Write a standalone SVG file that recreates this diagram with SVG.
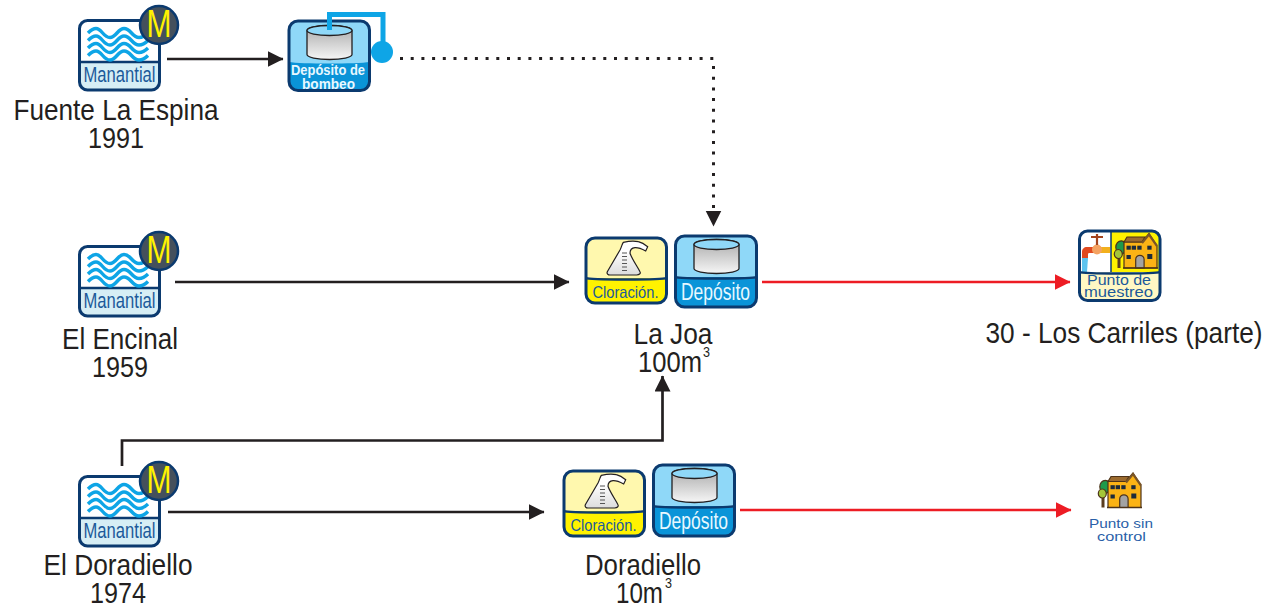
<svg xmlns="http://www.w3.org/2000/svg" width="1265" height="609" viewBox="0 0 1265 609">
<style>
.lbl{font-family:"Liberation Sans",Arial,sans-serif;font-size:30px;fill:#231f20;text-anchor:middle}
.sup{font-family:"Liberation Sans",Arial,sans-serif;font-size:14.5px;fill:#231f20}
.bx{stroke:#0b3a6f;stroke-width:3;fill:none}
.dv{stroke:#0b3a6f;stroke-width:2.5;fill:none}
.wave{stroke:#0ea5e6;stroke-width:3.400;fill:none}
.in{font-family:"Liberation Sans",Arial,sans-serif;text-anchor:middle}
.k{stroke:#231f20;stroke-width:2.7;fill:none}
.r{stroke:#ed1c24;stroke-width:2.7;fill:none}
.d{stroke:#231f20;stroke-width:3;fill:none;stroke-dasharray:3 7.7}
.win{fill:#1d2b3a}
.hs{stroke:#4d3319;stroke-width:1.200}
</style>
<defs>
<linearGradient id="g" x1="0" y1="0" x2="0" y2="1"><stop offset="0" stop-color="#a9a9a9"/><stop offset="1" stop-color="#f6f6f6"/></linearGradient>
<linearGradient id="fl" x1="0" y1="0" x2="0" y2="1"><stop offset="0.300" stop-color="#ffffff"/><stop offset="1" stop-color="#dcdcdc"/></linearGradient>
<marker id="ak" markerUnits="userSpaceOnUse" markerWidth="17" markerHeight="17" refX="15.500" refY="8" orient="auto"><path d="M0 0L16 8L0 16Z" fill="#231f20"/></marker>
<marker id="ar" markerUnits="userSpaceOnUse" markerWidth="17" markerHeight="17" refX="15.500" refY="8" orient="auto"><path d="M0 0L16 8L0 16Z" fill="#ed1c24"/></marker>
<path id="wv" d="M88 33C91 30 93 28.500 96 28.500C102 28.500 103 37.500 110 37.500C116 37.500 118 28.500 124 28.500C131 28.500 132 37.500 139 37.500C142 37.500 145 36 148 33" class="wave"/>
<g id="man">
<rect x="79.500" y="20.500" width="80" height="69.500" rx="8" fill="#fff"/>
<path d="M79.500 62H159.500V82a8 8 0 0 1-8 8H87.500a8 8 0 0 1-8-8Z" fill="#d6eef5"/>
<rect x="79.500" y="20.500" width="80" height="69.500" rx="8" class="bx"/>
<path d="M79.500 62H159.500" class="dv"/>
<use href="#wv"/>
<use href="#wv" y="7.500"/>
<use href="#wv" y="15"/>
<use href="#wv" y="22.500"/>
<circle cx="159" cy="25" r="19" fill="#44505c" stroke="#0b3a6f" stroke-width="2.500"/>
<text x="159" y="37" class="in" font-size="38" fill="#fff200" textLength="25" lengthAdjust="spacingAndGlyphs">M</text>
<text x="119.500" y="82" class="in" font-size="22" fill="#1c5a9a" textLength="72" lengthAdjust="spacingAndGlyphs">Manantial</text>
</g>
<g id="tank">
<path d="M0 5A22.500 5 0 0 1 45 5V29A22.500 5 0 0 1 0 29Z" fill="url(#g)" stroke="#231f20" stroke-width="1.300"/>
<ellipse cx="22.500" cy="5" rx="22.500" ry="5" fill="#8fd8f8" stroke="#231f20" stroke-width="1.300"/>
</g>
<g id="dep">
<rect x="0" y="0" width="81" height="71" rx="9" fill="#8fd8f8"/>
<path d="M0 41H81V62a9 9 0 0 1-9 9H9a9 9 0 0 1-9-9Z" fill="#0a94d8"/>
<rect x="0" y="0" width="81" height="71" rx="9" class="bx"/>
<path d="M0 41C3 43 78 43 81 41" class="dv"/>
<use href="#tank" x="18.500" y="3.500"/>
<text x="40" y="63.500" class="in" font-size="23" fill="#e8f8ff" textLength="69" lengthAdjust="spacingAndGlyphs">Depósito</text>
</g>
<g id="clo">
<rect x="0" y="0" width="80.500" height="65" rx="9" fill="#fff8ae"/>
<path d="M0 40H80.500V56a9 9 0 0 1-9 9H9a9 9 0 0 1-9-9Z" fill="#fff200"/>
<rect x="0" y="0" width="80.500" height="65" rx="9" class="bx"/>
<path d="M0 40C3 42 77 42 80.500 40" class="dv"/>
<path d="M21.300 33.700L34 12C36 8 36 6 37.300 4.300C43 3 48 2.500 52.300 3.700C56 4.500 59 6.500 61.700 8.700L59.700 13C56 11 52 9.500 49 9.700C46 10 44 12 44 15.300C46 21 51 28 54 33.700C55 35.500 53 37 50.700 37H24C22 37 20.500 35.500 21.300 33.700Z" fill="url(#fl)" stroke="#231f20" stroke-width="1.200"/>
<path d="M36 15H41M36 18.500H41M36 22H41M36 25.500H41M36 29H41M36 32.500H41" stroke="#555" stroke-width="1"/>
<text x="39.500" y="60" class="in" font-size="16.500" fill="#1c5a9a" textLength="66" lengthAdjust="spacingAndGlyphs">Cloración.</text>
</g>
<g id="house">
<rect x="3.500" y="24" width="3" height="11" fill="#5a3d1e"/>
<ellipse cx="7.300" cy="14.300" rx="5.500" ry="6.500" fill="#1e9a4b" class="hs"/>
<ellipse cx="4.300" cy="21" rx="4" ry="4.500" fill="#a4c639" class="hs"/>
<path d="M10 9H28L35 0.500L43 13V35H10Z" fill="#fbb315" class="hs"/>
<path d="M10 9L13 4H31L28 9Z" fill="#9c6b2f" class="hs"/>
<path d="M28 10L35 1.500L43 13" fill="none" stroke="#7a5527" stroke-width="2.200"/>
<rect class="win" x="12.500" y="12.700" width="4.300" height="4"/><rect class="win" x="17.700" y="12.700" width="4.300" height="4"/><rect class="win" x="23.300" y="12.700" width="4.300" height="4"/><rect class="win" x="33.300" y="12.700" width="4.300" height="4"/><rect class="win" x="12.500" y="22" width="4.300" height="4"/><rect class="win" x="33.300" y="21" width="5" height="5"/>
<path d="M21.700 35V26.500a4.200 4.200 0 0 1 8.400 0V35Z" fill="#a3a3a3" class="hs"/>
<path d="M9 35H44" stroke="#4d3319" stroke-width="1.500"/>
</g>
</defs>

<g id="connectors">
<path d="M167 59H283" class="k" marker-end="url(#ak)"/>
<path d="M175 282H569" class="k" marker-end="url(#ak)"/>
<path d="M122 466V440.500H662.500V376" class="k" marker-end="url(#ak)"/>
<path d="M168 512H544" class="k" marker-end="url(#ak)"/>
<path d="M762 282H1070" class="r" marker-end="url(#ar)"/>
<path d="M740 510H1071" class="r" marker-end="url(#ar)"/>
<path d="M400 58.500H713.500V208" class="d"/>
<path d="M713.500 209V226" stroke="none" fill="none" marker-end="url(#ak)"/>
</g>

<g id="fuente-la-espina"><use href="#man"/>
<text class="lbl" x="116" y="120" textLength="205" lengthAdjust="spacingAndGlyphs">Fuente La Espina</text>
<text class="lbl" x="116" y="148" textLength="56" lengthAdjust="spacingAndGlyphs">1991</text></g>

<g id="el-encinal"><use href="#man" y="226"/>
<text class="lbl" x="120" y="349" textLength="116" lengthAdjust="spacingAndGlyphs">El Encinal</text>
<text class="lbl" x="120" y="377" textLength="56" lengthAdjust="spacingAndGlyphs">1959</text></g>

<g id="el-doradiello"><use href="#man" y="456"/>
<text class="lbl" x="118" y="575" textLength="149" lengthAdjust="spacingAndGlyphs">El Doradiello</text>
<text class="lbl" x="118" y="603" textLength="56" lengthAdjust="spacingAndGlyphs">1974</text></g>

<g id="deposito-bombeo">
<rect x="289" y="21" width="80.500" height="69.500" rx="9" fill="#8fd8f8"/>
<path d="M289 62C300 64 358 64 369.500 62V81.500a9 9 0 0 1-9 9H298a9 9 0 0 1-9-9Z" fill="#0a94d8"/>
<rect x="289" y="21" width="80.500" height="69.500" rx="9" class="bx"/>
<use href="#tank" x="307" y="25.500"/>
<path d="M329.500 30V14.500H383V45" fill="none" stroke="#0ea5e6" stroke-width="5"/>
<circle cx="382" cy="52" r="11" fill="#0ea5e6"/>
<text x="328" y="75" class="in" font-size="15" font-weight="bold" fill="#e8f8ff" textLength="74" lengthAdjust="spacingAndGlyphs">Depósito de</text>
<text x="328.500" y="89" class="in" font-size="15" font-weight="bold" fill="#e8f8ff" textLength="53" lengthAdjust="spacingAndGlyphs">bombeo</text>
</g>

<g id="la-joa">
<use href="#clo" x="586" y="238"/>
<use href="#dep" x="675.500" y="236"/>
<text class="lbl" x="673" y="344" textLength="79" lengthAdjust="spacingAndGlyphs">La Joa</text>
<text class="lbl" x="670" y="372" textLength="64" lengthAdjust="spacingAndGlyphs">100m</text>
<text class="sup" x="703" y="357" textLength="7" lengthAdjust="spacingAndGlyphs">3</text>
</g>

<g id="doradiello">
<use href="#clo" x="564" y="471"/>
<use href="#dep" x="653.500" y="465"/>
<text class="lbl" x="643" y="575" textLength="116" lengthAdjust="spacingAndGlyphs">Doradiello</text>
<text class="lbl" x="639.500" y="603" textLength="47" lengthAdjust="spacingAndGlyphs">10m</text>
<text class="sup" x="665" y="588" textLength="7" lengthAdjust="spacingAndGlyphs">3</text>
</g>

<g id="los-carriles">
<rect x="1079.500" y="231" width="80.500" height="69.500" rx="8" fill="#fff8c4"/>
<rect x="1080.500" y="232" width="31" height="40" fill="#fff"/>
<rect x="1111" y="232" width="48" height="40" fill="#fff200"/>
<path d="M1111 232V272" stroke="#0b3a6f" stroke-width="1.500"/>
<path d="M1082 258V252C1082 249 1084 247 1087 247H1096V253H1089C1088 253 1088 254 1088 255V258Z" fill="#e0491f"/>
<path d="M1082 258H1088L1087 272H1082Z" fill="#5cc3ef"/>
<path d="M1096 247H1110V253H1096Z" fill="#f2b01d"/>
<circle cx="1097" cy="249.500" r="5" fill="#f4a261"/>
<path d="M1097 234V245M1091 237H1103" stroke="#a3431c" stroke-width="2.200"/>
<use href="#house" x="1114" y="233"/>
<rect x="1079.500" y="231" width="80.500" height="69.500" rx="8" class="bx"/>
<path d="M1079.500 272C1083 274 1156 274 1160 272" class="dv"/>
<text x="1119" y="285" class="in" font-size="14.500" fill="#1c5a9a" textLength="64" lengthAdjust="spacingAndGlyphs">Punto de</text>
<text x="1118.500" y="297" class="in" font-size="14.500" fill="#1c5a9a" textLength="69" lengthAdjust="spacingAndGlyphs">muestreo</text>
<text class="lbl" transform="translate(1124 343) scale(.875 1)">30 - Los Carriles (parte)</text>
</g>

<g id="punto-sin-control">
<use href="#house" x="1098" y="472.500"/>
<text x="1121" y="528" class="in" font-size="13.500" fill="#2a5fa8" textLength="64" lengthAdjust="spacingAndGlyphs">Punto sin</text>
<text x="1121.500" y="541" class="in" font-size="13.500" fill="#2a5fa8" textLength="49" lengthAdjust="spacingAndGlyphs">control</text>
</g>
</svg>
